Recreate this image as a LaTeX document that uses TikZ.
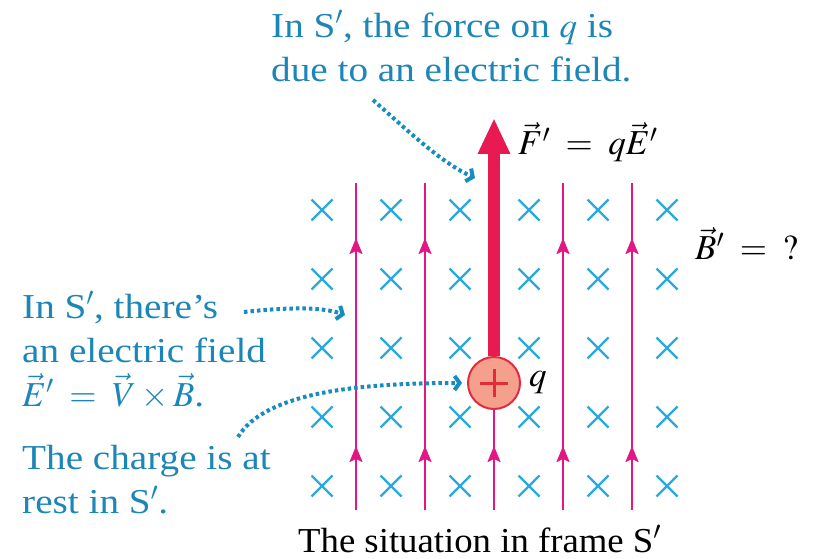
\documentclass[tikz,border=0pt]{standalone}
\usepackage{mathptmx}
\usepackage{fontspec}
\setmainfont{Liberation Serif}[FakeStretch=1.12]
\newfontfamily\captionfont{Liberation Serif}[FakeStretch=1.05]
\usepackage{tikz}
\usetikzlibrary{arrows.meta}

\definecolor{noteblue}{RGB}{28,134,184}
\definecolor{dotblue}{RGB}{22,140,192}
\definecolor{crossblue}{RGB}{40,170,222}
\definecolor{fieldpink}{RGB}{226,22,132}
\definecolor{forcered}{RGB}{232,26,82}
\definecolor{chargefill}{RGB}{244,160,140}
\definecolor{chargeedge}{RGB}{226,44,62}

\begin{document}
\begin{tikzpicture}[
  x=1pt, y=-1pt,
  font=\fontsize{35}{44}\selectfont,
  note/.style={text=noteblue, align=left, anchor=north west, inner sep=0pt},
  label/.style={anchor=base west, inner sep=0pt},
  cross/.style={draw=crossblue, line width=2.4pt},
  fline/.style={draw=fieldpink, line width=2pt},
  fhead/.style={fline, -{Stealth[length=16pt,width=13pt,inset=3pt]}},
  force/.style={draw=forcered, line width=12pt, -{Triangle[length=36pt,width=30pt]}},
  pointer/.style={draw=dotblue, line width=4pt, dash pattern=on 3.5pt off 3pt,
    -{Straight Barb[length=5pt,width=14pt]}},
  charge/.style={circle, draw=chargeedge, fill=chargefill, line width=2pt,
    minimum size=52pt, inner sep=0pt},
  plusbar/.style={draw=chargeedge, line width=3pt}
]
\useasboundingbox (0,0) rectangle (815,559);

\foreach \x in {322,391,460,529,598,667}
  \foreach \y in {210,279,348,417,486}
    \draw[cross] (\x-10.5,\y-10.5) -- (\x+10.5,\y+10.5) (\x-10.5,\y+10.5) -- (\x+10.5,\y-10.5);

\foreach \x in {356,425,563,632} {
  \draw[fline] (\x,510) -- (\x,183);
  \draw[fhead] (\x,262) -- (\x,238);
  \draw[fhead] (\x,470) -- (\x,446);
}

\node[charge] (charge) at (494,383) {};
\draw[plusbar] ([xshift=-14pt]charge.center) -- ([xshift=14pt]charge.center)
  ([yshift=-14pt]charge.center) -- ([yshift=14pt]charge.center);
\node[anchor=west, inner sep=0pt] (qlabel) at ([xshift=8pt]charge.east) {$q$};

\coordinate (ftip) at (494,118);
\coordinate (fbase) at (494,510);
\draw[fline] (charge.south) -- (fbase);
\draw[fhead] (494,470) -- (494,446);
\draw[force] (charge.north) -- (ftip);

\node[label] (flabel) at (518,155) {$\vec{F}'\;=\;q\vec{E}'$};
\node[label] (blabel) at (695,260) {$\vec{B}'\;=\;{?}$};

\node[note] (forcenote) at (271,10) {In S$'$, the force on $q$ is\\due to an electric field.};
\node[note] (fieldnote) at (22,291) {In S$'$, there's\\an electric field\\$\vec{E}'\;=\;\vec{V}\times\vec{B}$.};
\node[note] (restnote) at (22,445) {The charge is at\\rest in S$'$.};
\node[label, font=\captionfont\fontsize{35}{44}\selectfont] (caption) at (298,552) {The situation in frame S$'$};

\coordinate (fstart) at (373,100);
\coordinate (fend) at (475,178);
\coordinate (estart) at (244,312);
\coordinate (eend) at (345,315);
\coordinate (rstart) at (238,437);

\draw[pointer] (fstart) .. controls (405,128) and (440,162) .. (fend);
\draw[pointer] (estart) .. controls (290,307) and (322,307) .. (eend);
\draw[pointer] (rstart) .. controls (265,392) and (360,383) .. ([xshift=-5pt]charge.west);
\end{tikzpicture}
\end{document}
